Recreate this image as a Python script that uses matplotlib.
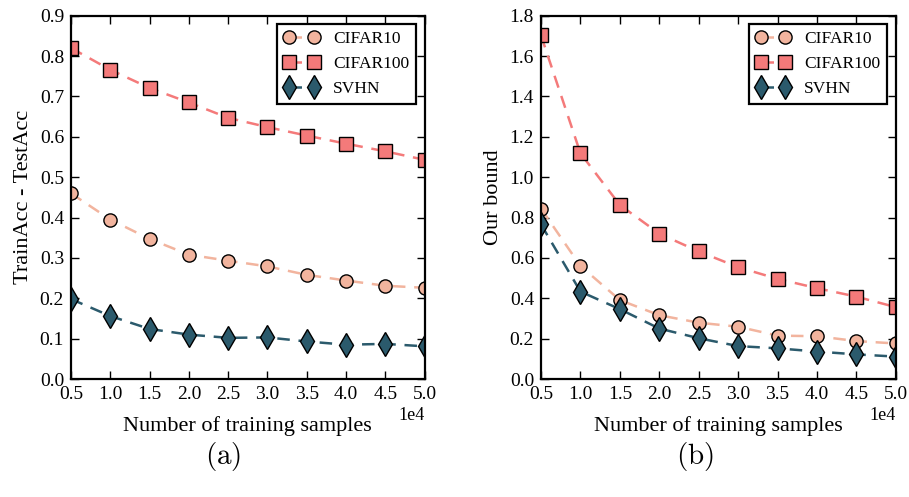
import matplotlib
matplotlib.use("Agg")
import matplotlib.pyplot as plt
import numpy as np

plt.rcParams['font.family'] = ['Liberation Serif', 'DejaVu Serif']
plt.rcParams['mathtext.fontset'] = 'cm'

n_samples = [5000, 10000, 15000, 20000, 25000, 30000, 35000, 40000, 45000, 50000]
series_names = ["CIFAR10", "CIFAR100", "SVHN"]

gap_cifar10 = [0.460, 0.395, 0.347, 0.308, 0.293, 0.279, 0.258, 0.244, 0.231, 0.226]
gap_cifar100 = [0.820, 0.766, 0.721, 0.685, 0.647, 0.624, 0.603, 0.583, 0.564, 0.543]
gap_svhn = [0.198, 0.156, 0.124, 0.110, 0.102, 0.103, 0.093, 0.085, 0.087, 0.081]

bound_cifar10 = [0.844, 0.560, 0.391, 0.316, 0.279, 0.259, 0.215, 0.212, 0.188, 0.176]
bound_cifar100 = [1.702, 1.118, 0.862, 0.720, 0.632, 0.554, 0.496, 0.450, 0.408, 0.356]
bound_svhn = [0.766, 0.433, 0.346, 0.250, 0.202, 0.163, 0.152, 0.136, 0.122, 0.111]

colors = ["#f2b49e", "#f47a7a", "#2b5a6c"]
markers = ["o", "s", "d"]
msizes = [9.5, 9.5, 12]

fig = plt.figure(figsize=(9.09, 4.97), dpi=100)
ax1 = fig.add_axes([0.0781, 0.2374, 0.389, 0.731])
ax2 = fig.add_axes([0.5952, 0.2374, 0.3904, 0.731])

def draw(ax, data, ylim, yticks, ylabel):
    for vals, name, c, m, ms in zip(data, series_names, colors, markers, msizes):
        ax.plot(n_samples, vals, linestyle=(0, (5, 3.5)), linewidth=1.8, color=c,
                marker=m, markersize=ms, markerfacecolor=c, markeredgecolor='black',
                markeredgewidth=1.0, label=name)
    ax.set_xlim(5000, 50000)
    ax.set_ylim(*ylim)
    ax.set_xticks(n_samples)
    ax.set_yticks(yticks)
    ax.ticklabel_format(axis='x', style='sci', scilimits=(4, 4))
    ax.xaxis.get_offset_text().set_fontsize(13)
    ax.tick_params(direction='in', top=True, right=True, length=6, width=1.0,
                   labelsize=14, pad=5)
    for s in ax.spines.values():
        s.set_linewidth(1.6)
    ax.set_xlabel("Number of training samples", fontsize=16, labelpad=9.5)
    ax.set_ylabel(ylabel, fontsize=16, labelpad=5)
    ax.yaxis.set_major_formatter(matplotlib.ticker.FormatStrFormatter('%.1f'))
    leg = ax.legend(loc='upper right', numpoints=2, fontsize=12.5, fancybox=False,
                    framealpha=1, edgecolor='black', handlelength=2.0, borderpad=0.4,
                    labelspacing=0.5, handletextpad=0.8)
    leg.get_frame().set_linewidth(1.6)

draw(ax1, [gap_cifar10, gap_cifar100, gap_svhn], (0, 0.9),
     np.arange(0, 0.91, 0.1), "TrainAcc - TestAcc")
draw(ax2, [bound_cifar10, bound_cifar100, bound_svhn], (0, 1.8),
     np.arange(0, 1.81, 0.2), "Our bound")

fig.text(0.246, 0.082, r'$\mathrm{(a)}$', fontsize=21, ha='center', va='center')
fig.text(0.764, 0.082, r'$\mathrm{(b)}$', fontsize=21, ha='center', va='center')

fig.savefig("out.png", dpi=100)
